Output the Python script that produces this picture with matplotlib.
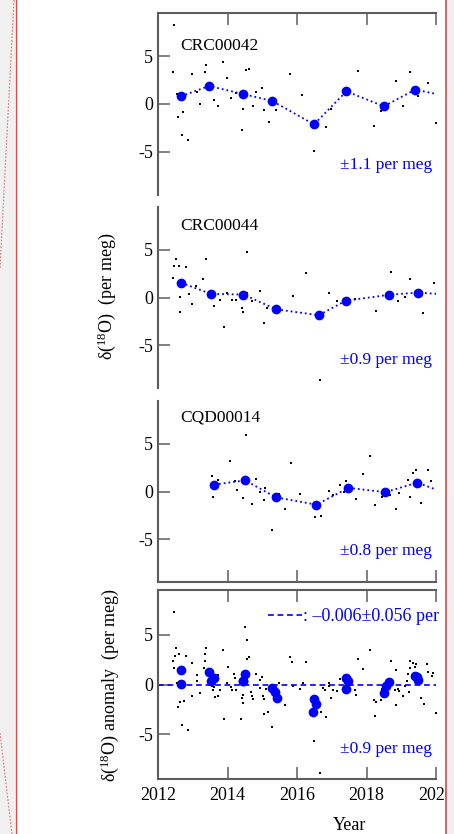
import matplotlib
matplotlib.use('Agg')
import matplotlib.pyplot as plt
from matplotlib.lines import Line2D
from matplotlib.patches import Rectangle

plt.rcParams['font.family'] = ['Liberation Serif', 'DejaVu Serif']
plt.rcParams['mathtext.fontset'] = 'custom'
plt.rcParams['mathtext.rm'] = 'Liberation Serif'
plt.rcParams['mathtext.it'] = 'Liberation Serif:italic'
plt.rcParams['axes.unicode_minus'] = False

# ---------------- data ----------------
station_names = ["CRC00042", "CRC00044", "CQD00014"]
station_err = ["±1.1 per meg", "±0.9 per meg", "±0.8 per meg"]

# CRC00042
s1_bin_year = [2012.66, 2013.47, 2014.44, 2015.29, 2016.49, 2017.42, 2018.50, 2019.40, 2020.45]
s1_bin_val = [0.80, 1.88, 1.05, 0.31, -2.13, 1.32, -0.24, 1.50, 0.72]
s1_year = [2012.472, 2012.434, 2012.54, 2012.578, 2012.732, 2012.684, 2012.857, 2012.973, 2013.108,
           2013.195, 2013.368, 2013.339, 2013.618, 2013.734, 2013.859, 2013.985, 2014.100, 2014.254,
           2014.408, 2014.457, 2014.543, 2014.611, 2014.736, 2014.823, 2014.996, 2015.054, 2015.198,
           2015.401, 2015.786, 2016.143, 2016.489, 2016.836, 2016.981, 2017.482, 2017.761, 2018.224,
           2018.416, 2018.859, 2019.062, 2019.254, 2019.495, 2019.765, 2019.987]
s1_val = [8.29, 3.34, 1.08, -1.39, -0.80, -3.21, -3.73, 3.10, 1.25,
          -0.03, 4.08, 3.31, 0.38, -0.17, 4.43, 2.75, 0.63, 1.15,
          -2.75, -0.49, 3.52, 3.69, -0.17, 1.25, 1.71, -0.66, -1.85,
          -0.66, 3.10, 0.94, -4.88, -2.40, -0.49, 1.08, 3.41, -2.33,
          -0.73, 2.37, -0.24, 3.31, 0.87, 2.16, -1.99]

# CRC00044
s2_bin_year = [2012.665, 2013.522, 2014.457, 2015.401, 2016.624, 2017.405, 2018.638, 2019.486, 2020.45]
s2_bin_val = [1.55, 0.38, 0.31, -1.24, -1.86, -0.34, 0.28, 0.52, 0.27]
s2_year = [2012.434, 2012.530, 2012.472, 2012.597, 2012.809, 2012.636, 2012.626, 2012.906, 2012.973,
           2013.098, 2013.301, 2013.378, 2013.618, 2013.782, 2013.888, 2013.994, 2014.139, 2014.235,
           2014.418, 2014.457, 2014.563, 2014.572, 2014.697, 2014.938, 2015.064, 2015.141, 2015.516,
           2015.892, 2016.249, 2016.653, 2016.913, 2017.145, 2017.655, 2018.281, 2018.705, 2018.908,
           2019.100, 2019.264, 2019.630, 2019.938]
s2_val = [2.00, 4.07, 3.28, 3.34, 3.24, 0.03, -1.48, 0.34, -0.72,
          1.24, 1.93, 4.07, -0.93, -0.28, -3.14, 0.45, -0.21, -0.28,
          -1.07, -1.48, 4.79, 0.45, -0.41, 0.72, -2.69, -1.10, -1.17,
          0.14, 2.55, -8.62, 0.52, -0.38, -0.17, -1.41, 2.72, -0.34,
          0.10, 1.97, -1.59, 1.48]

# CQD00014
s3_bin_year = [2013.618, 2014.505, 2015.401, 2016.557, 2017.482, 2018.541, 2019.457, 2020.45]
s3_bin_val = [0.72, 1.17, -0.62, -1.38, 0.38, -0.07, 0.93, -0.39]
s3_year = [2013.551, 2013.715, 2013.580, 2014.081, 2014.206, 2014.274, 2014.437, 2014.524, 2014.697,
           2014.823, 2015.073, 2014.938, 2015.054, 2015.487, 2015.651, 2015.285, 2015.834, 2016.075,
           2016.509, 2016.701, 2016.913, 2017.048, 2017.241, 2017.347, 2017.405, 2017.703, 2017.896,
           2018.108, 2018.233, 2018.445, 2018.676, 2018.850, 2018.936, 2019.197, 2019.254, 2019.341,
           2019.437, 2019.582, 2019.765, 2019.861]
s3_val = [1.62, 1.17, -0.59, 3.17, 1.14, 0.17, -0.72, 5.97, -1.31,
          1.28, 0.41, -0.10, -0.93, -0.24, -1.79, -4.03, 2.97, -0.24,
          -2.66, -2.52, 0.07, -0.41, 0.66, -0.07, 1.10, -0.83, 1.79,
          3.69, -1.41, -0.55, -0.34, -1.79, -0.17, 1.24, -0.55, 1.93,
          2.28, -1.24, 2.21, 1.10]

# anomaly panel
anom_year = [2012.472, 2012.530, 2012.434, 2012.482, 2012.453, 2012.597, 2012.568, 2012.645, 2012.684,
             2012.751, 2012.809, 2012.857, 2012.540, 2012.645, 2012.973, 2012.973, 2013.108, 2013.108,
             2013.195, 2013.339, 2013.378, 2013.310, 2013.349, 2013.522, 2013.541, 2013.590, 2013.618,
             2013.647, 2013.715, 2013.734, 2013.792, 2013.859, 2013.888, 2014.004, 2013.994, 2014.100,
             2014.129, 2014.197, 2014.254, 2014.225, 2014.389, 2014.418, 2014.437, 2014.457, 2014.505,
             2014.572, 2014.553, 2014.620, 2014.669, 2014.707, 2014.736, 2014.823, 2014.938, 2014.948,
             2014.996, 2015.015, 2015.044, 2015.064, 2015.121, 2015.179, 2015.285, 2015.401, 2015.487,
             2015.651, 2015.796, 2015.844, 2015.892, 2016.075, 2016.181, 2016.258, 2016.489, 2016.701,
             2016.836, 2016.913, 2016.933, 2016.990, 2017.038, 2017.145, 2017.241, 2017.347, 2017.395,
             2017.511, 2017.665, 2017.694, 2017.761, 2017.896, 2018.108, 2018.233, 2018.214, 2018.281,
             2018.416, 2018.445, 2018.618, 2018.705, 2018.811, 2018.840, 2018.859, 2018.908, 2018.936,
             2019.052, 2019.100, 2019.158, 2019.197, 2019.235, 2019.254, 2019.341, 2019.254, 2019.389,
             2019.437, 2019.495, 2019.572, 2019.649, 2019.755, 2019.765, 2019.871, 2019.919, 2019.987,
             2016.663, 2016.740, 2016.817]
anom_val = [7.32, 3.71, 2.38, 2.85, 1.62, 3.05, -2.25, -1.79, -4.04,
            -1.69, 2.85, -4.60, 0.13, -0.30, 2.19, -1.13, 0.93, 0.33,
            -0.89, 3.11, 3.71, 1.62, 2.38, 0.70, -0.13, -0.60, -0.23,
            -1.26, 0.96, -1.13, -0.60, 3.44, -3.51, 1.79, 0.13, -0.23,
            -0.53, 1.03, -0.53, 0.70, -3.51, -1.36, -1.03, -1.85, 5.76,
            4.44, 2.52, 2.72, -0.76, -1.16, -1.49, 1.03, 0.43, -0.36,
            0.79, -1.19, -3.01, -1.46, -0.46, -2.72, -4.24, -0.53, 0.13,
            -2.05, 2.72, 2.25, -0.20, -0.46, 0.13, 2.25, -5.70, -2.72,
            -3.28, 0.17, -0.20, -1.36, -0.53, -0.66, 0.53, 0.40, 0.83,
            0.20, -0.60, -1.06, 2.52, 1.59, 3.51, -3.18, -1.59, -1.72,
            -1.59, -0.43, -0.23, 2.38, -0.60, -2.05, 1.46, -0.43, -0.70,
            -1.13, -0.20, 0.40, 1.03, -0.79, 2.38, 2.19, 1.62, 1.72,
            2.09, 0.96, -1.39, -1.95, 2.02, 1.29, 0.89, 1.13, -2.85,
            -8.94, -0.36, -0.53]
anom_bin_year = [2012.665, 2013.474, 2014.437, 2015.285, 2016.460, 2017.405, 2018.503, 2019.400,
                 2012.665, 2013.522, 2014.457, 2015.420, 2016.557, 2017.405, 2018.638, 2019.486,
                 2013.618, 2014.505, 2015.372, 2016.489, 2017.482, 2018.561, 2019.466]
anom_bin_val = [0.10, 1.23, 0.40, -0.33, -2.75, 0.70, -0.86, 0.83,
                1.49, 0.33, 0.33, -1.32, -1.92, -0.43, 0.23, 0.50,
                0.63, 1.06, -0.73, -1.46, 0.40, -0.20, 0.73]
anom_mean = -0.006
anom_label = ": –0.006±0.056 per"
anom_err = "±0.9 per meg"

xticks = [2012, 2014, 2016, 2018, 2020]
yticks = [-5, 0, 5]

# ---------------- figure ----------------
W, H = 454, 834
fig = plt.figure(figsize=(W / 100, H / 100), dpi=100)
fig.patch.set_facecolor('white')

SP = '#5c5c5c'
BLUE = '#0000ff'
DASH = (0, (3.5, 2.2))


def make_ax(top, bottom):
    ax = fig.add_axes([158 / W, 1 - bottom / H, 278 / W, (bottom - top) / H])
    ax.set_xlim(2012, 2020)
    ax.set_ylim(-9.5, 9.5)
    ax.set_facecolor('none')
    for s in ax.spines.values():
        s.set_color(SP)
        s.set_linewidth(1.5)
        s.set_visible(False)
    ax.spines['left'].set_visible(True)
    ax.set_yticks(yticks)
    ax.tick_params(axis='both', direction='in', length=8.5, width=1.1, color=SP,
                   labelsize=13, labelcolor='black')
    ax.tick_params(axis='y', pad=3.5, right=False)
    ax.tick_params(axis='x', pad=5.5)
    ax.set_xticks(xticks)
    return ax


ax1 = make_ax(13, 195)
ax2 = make_ax(207, 388)
ax3 = make_ax(401, 582)
ax4 = make_ax(590, 779)

ax1.spines['top'].set_visible(True)
ax1.tick_params(axis='x', top=True, bottom=False, labeltop=False, labelbottom=False)
ax2.tick_params(axis='x', top=False, bottom=False, labeltop=False, labelbottom=False)
ax3.spines['bottom'].set_visible(True)
ax3.tick_params(axis='x', top=False, bottom=True, labeltop=False, labelbottom=False)
ax4.spines['top'].set_visible(True)
ax4.spines['bottom'].set_visible(True)
ax4.tick_params(axis='x', top=True, bottom=True, labeltop=False, labelbottom=True)

stations = [
    (ax1, s1_year, s1_val, s1_bin_year, s1_bin_val, 0.797, 0.143),
    (ax2, s2_year, s2_val, s2_bin_year, s2_bin_val, 0.875, 0.133),
    (ax3, s3_year, s3_val, s3_bin_year, s3_bin_val, 0.884, 0.149),
]
for i, (ax, yx, yv, bx, bv, ny, ey) in enumerate(stations):
    ax.plot(yx, yv, linestyle='none', marker='s', ms=2.1, color='black', mew=0)
    ax.plot(bx, bv, linestyle=':', lw=1.3, color=BLUE, marker='o', ms=6, mfc=BLUE, mec=BLUE)
    ax.text(0.079, ny, station_names[i], transform=ax.transAxes, fontsize=12.5,
            ha='left', va='baseline')
    ax.text(0.985, ey, station_err[i], transform=ax.transAxes, fontsize=12.5,
            ha='right', va='baseline', color=BLUE)

ax4.plot(anom_year, anom_val, linestyle='none', marker='s', ms=2.1, color='black', mew=0)
ax4.axhline(anom_mean, color=BLUE, lw=1.2, linestyle=DASH)
ax4.plot(anom_bin_year, anom_bin_val, linestyle='none', marker='o', ms=6, color=BLUE)
ax4.add_line(Line2D([0.396, 0.518], [0.866, 0.866], transform=ax4.transAxes, color=BLUE,
                    lw=1.2, linestyle=DASH, clip_on=False))
ax4.text(0.522, 0.838, anom_label, transform=ax4.transAxes, fontsize=13,
         ha='left', va='baseline', color=BLUE, clip_on=False)
ax4.text(0.985, 0.136, anom_err, transform=ax4.transAxes, fontsize=12.5,
         ha='right', va='baseline', color=BLUE)

fig.text(107 / W, 1 - 296 / H, 'δ($^{18}$O)  (per meg)', rotation=90, ha='center', va='center',
         fontsize=13)
fig.text(110 / W, 1 - 685 / H, 'δ($^{18}$O) anomaly  (per meg)', rotation=90, ha='center',
         va='center', fontsize=13)
fig.text(350 / W, 1 - 830 / H, 'Year', ha='center', va='baseline', fontsize=13)

# ---------------- frame overlay ----------------
GRAY = '#f0f0f0'
RED = '#d64a4a'
fig.add_artist(Rectangle((0, 0), 15 / W, 1, transform=fig.transFigure, facecolor=GRAY,
                         edgecolor='none', zorder=20))
fig.add_artist(Rectangle((446 / W, 0), 1, 1, transform=fig.transFigure, facecolor=GRAY,
                         edgecolor='none', zorder=20))
fig.add_artist(Line2D([15.5 / W, 15.5 / W], [0, 1], transform=fig.transFigure, color=RED,
                      lw=1.0, zorder=21))
fig.add_artist(Line2D([445.5 / W, 445.5 / W], [0, 1], transform=fig.transFigure, color=RED,
                      lw=1.2, zorder=21))
fig.add_artist(Line2D([14 / W, 0], [1, 1 - 268 / H], transform=fig.transFigure, color='#e07070',
                      lw=0.8, linestyle=(0, (1.5, 1.5)), zorder=21))
fig.add_artist(Line2D([0, 12 / W], [1 - 733 / H, 0], transform=fig.transFigure, color='#e07070',
                      lw=0.8, linestyle=(0, (1.5, 1.5)), zorder=21))

fig.savefig('out.png', dpi=100)
